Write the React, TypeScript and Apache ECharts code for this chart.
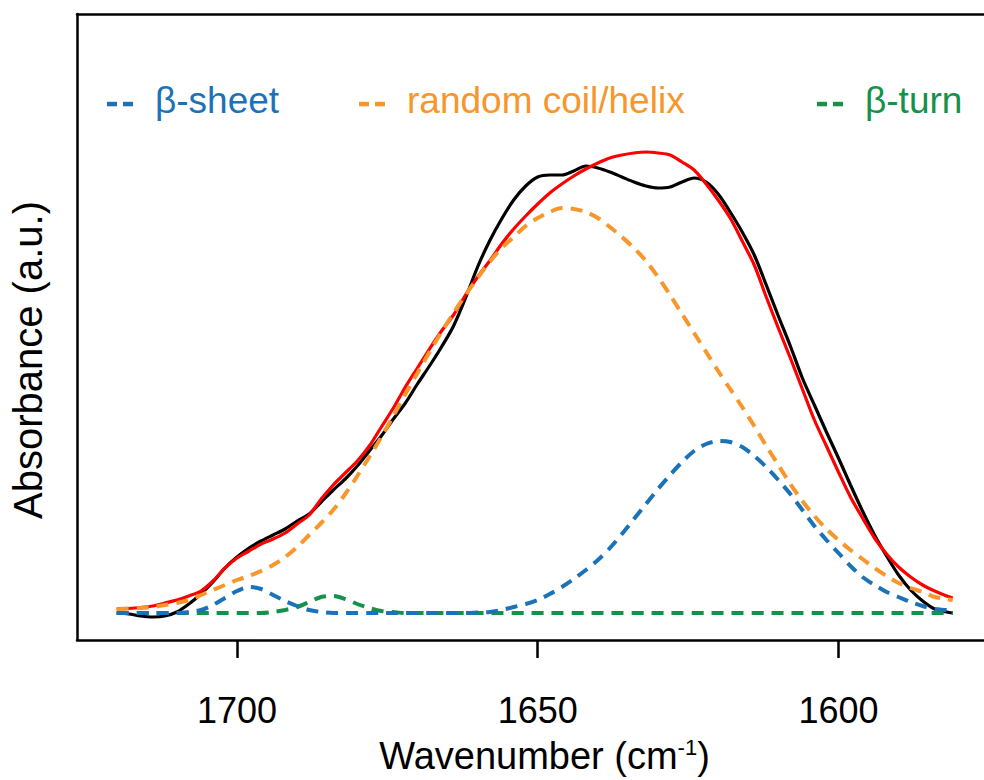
import React, { useEffect, useRef } from "react";
import * as echarts from "echarts";

// Wavenumber grid (cm-1)
const wavenumbers = [
  1720, 1718, 1716, 1714, 1712, 1710, 1708, 1706, 1704, 1702,
  1700, 1698, 1696, 1694, 1692, 1690, 1688, 1686, 1684, 1682,
  1680, 1678, 1676, 1674, 1672, 1670, 1668, 1666, 1664, 1662,
  1660, 1658, 1656, 1654, 1652, 1650, 1648, 1646, 1644, 1642,
  1640, 1638, 1636, 1634, 1632, 1630, 1628, 1626, 1624, 1622,
  1620, 1618, 1616, 1614, 1612, 1610, 1608, 1606, 1604, 1602,
  1600, 1598, 1596, 1594, 1592, 1590, 1588, 1586, 1584, 1582, 1581,
];

// Measured spectrum (black)
const measured = [
  0, -0.01, -0.03, -0.04, -0.03, 0.01, 0.09, 0.19, 0.31, 0.45,
  0.56, 0.65, 0.72, 0.78, 0.84, 0.92, 0.99, 1.11, 1.23, 1.34,
  1.47, 1.62, 1.77, 1.94, 2.1, 2.29, 2.47, 2.66, 2.87, 3.15,
  3.46, 3.72, 3.94, 4.13, 4.27, 4.36, 4.38, 4.38, 4.42, 4.47,
  4.45, 4.41, 4.36, 4.31, 4.27, 4.25, 4.26, 4.31, 4.35, 4.31,
  4.19, 4.01, 3.81, 3.58, 3.28, 2.97, 2.67, 2.35, 2.08, 1.81,
  1.55, 1.28, 1.02, 0.78, 0.57, 0.38, 0.23, 0.12, 0.04, 0.01, 0,
];

// Fitted envelope (red)
const fitted = [
  0.04, 0.045, 0.055, 0.07, 0.1, 0.13, 0.17, 0.22, 0.32, 0.45,
  0.55, 0.62, 0.69, 0.74, 0.8, 0.89, 0.98, 1.14, 1.28, 1.4,
  1.52, 1.67, 1.86, 2.05, 2.26, 2.45, 2.64, 2.82, 2.98, 3.18,
  3.36, 3.52, 3.69, 3.84, 3.97, 4.09, 4.2, 4.29, 4.37, 4.44,
  4.5, 4.55, 4.58, 4.6, 4.61, 4.6, 4.58, 4.51, 4.43, 4.29,
  4.13, 3.95, 3.72, 3.48, 3.16, 2.85, 2.55, 2.24, 1.93, 1.67,
  1.41, 1.16, 0.95, 0.75, 0.59, 0.46, 0.36, 0.28, 0.22, 0.17, 0.15,
];

// Random coil / helix component (orange dashed)
const randomCoil = [
  0.04, 0.045, 0.05, 0.06, 0.08, 0.1, 0.13, 0.18, 0.23, 0.28,
  0.33, 0.37, 0.42, 0.48, 0.56, 0.66, 0.78, 0.9, 1.03, 1.19,
  1.37, 1.56, 1.76, 1.97, 2.19, 2.4, 2.61, 2.81, 3.0, 3.18,
  3.35, 3.51, 3.65, 3.76, 3.87, 3.95, 4.01, 4.05, 4.04, 4.01,
  3.95, 3.86, 3.76, 3.65, 3.52, 3.36, 3.18, 2.99, 2.8, 2.61,
  2.42, 2.24, 2.06, 1.87, 1.67, 1.48, 1.29, 1.12, 0.97, 0.84,
  0.73, 0.63, 0.54, 0.45, 0.37, 0.3, 0.25, 0.21, 0.16, 0.14, 0.13,
];

// beta-sheet components (blue dashed)
const betaSheet = [
  0, 0, 0, 0, 0, 0, 0.01, 0.03, 0.08, 0.15,
  0.22, 0.26, 0.24, 0.18, 0.12, 0.07, 0.03, 0.01, 0, 0,
  0, 0, 0, 0, 0, 0, 0, 0, 0, 0,
  0.005, 0.01, 0.03, 0.06, 0.09, 0.13, 0.19, 0.26, 0.34, 0.43,
  0.53, 0.65, 0.79, 0.94, 1.09, 1.24, 1.38, 1.51, 1.62, 1.69,
  1.72, 1.71, 1.66, 1.57, 1.46, 1.33, 1.19, 1.03, 0.87, 0.73,
  0.6, 0.47, 0.36, 0.28, 0.21, 0.16, 0.11, 0.07, 0.04, 0.03, 0.02,
];

// beta-turn component (green dashed)
const betaTurn = [
  0, 0, 0, 0, 0, 0, 0, 0, 0, 0,
  0, 0, 0, 0.01, 0.03, 0.06, 0.11, 0.16, 0.17, 0.14,
  0.09, 0.05, 0.02, 0.01, 0, 0, 0, 0, 0, 0,
  0, 0, 0, 0, 0, 0, 0, 0, 0, 0,
  0, 0, 0, 0, 0, 0, 0, 0, 0, 0,
  0, 0, 0, 0, 0, 0, 0, 0, 0, 0,
  0, 0, 0, 0, 0, 0, 0, 0, 0, 0, 0,
];

const tickValues = [1600, 1650, 1700];
const legendLabels = ["β-sheet", "random coil/helix", "β-turn"];

const FONT = '"Liberation Sans", Arial, Helvetica, sans-serif';
const BLUE = "#1b72b8";
const ORANGE = "#f7962a";
const GREEN = "#16914a";
const RED = "#ff0000";
const BLACK = "#000000";

const legendColors = [BLUE, ORANGE, GREEN];
const legendX = [107, 359, 817];

const toPairs = (ys: number[]) => wavenumbers.map((w, i) => [w, ys[i]]);

export default function App() {
  const ref = useRef<HTMLDivElement>(null);

  useEffect(() => {
    if (!ref.current) return;
    const chart = echarts.init(ref.current, undefined, { renderer: "svg" });

    const axisLineStyle = { color: BLACK, width: 2.5 };
    const dash = [12, 8];

    const graphic: any[] = [];
    legendLabels.forEach((label, i) => {
      const x0 = legendX[i];
      graphic.push({
        type: "rect",
        shape: { x: x0, y: 101.8, width: 10, height: 4.5 },
        style: { fill: legendColors[i] },
      });
      graphic.push({
        type: "rect",
        shape: { x: x0 + 16, y: 101.8, width: 10, height: 4.5 },
        style: { fill: legendColors[i] },
      });
      graphic.push({
        type: "text",
        x: x0 + 48,
        y: 100,
        style: {
          text: label,
          fill: legendColors[i],
          fontSize: 37,
          fontFamily: FONT,
          align: "left",
          verticalAlign: "middle",
        },
      });
    });

    const lineSeries = (name: string, ys: number[], color: string, dashed: boolean, width: number, z: number) => ({
      name,
      type: "line",
      data: toPairs(ys),
      showSymbol: false,
      symbol: "none",
      smooth: 0.3,
      z,
      lineStyle: { color, width, type: dashed ? dash : "solid" },
      emphasis: { disabled: true },
    });

    chart.setOption({
      animation: false,
      backgroundColor: "#ffffff",
      grid: {
        left: 77,
        right: 0,
        top: 14,
        bottom: 140,
        containLabel: false,
        outerBoundsMode: "none",
      },
      xAxis: [
        {
          type: "value",
          inverse: true,
          min: 1575.8,
          max: 1726.6,
          position: "bottom",
          axisLine: { show: true, onZero: false, lineStyle: axisLineStyle },
          axisTick: {
            show: true,
            inside: false,
            length: 18,
            customValues: tickValues,
            lineStyle: axisLineStyle,
          },
          axisLabel: {
            customValues: tickValues,
            fontSize: 36,
            color: BLACK,
            fontFamily: FONT,
            margin: 52,
            formatter: (v: number) => String(v),
          },
          splitLine: { show: false },
          name: "{a|Wavenumber (cm}{s|-1}{a|)}",
          nameLocation: "middle",
          nameGap: 96,
          nameTextStyle: {
            padding: [0, 0, 0, 28],
            rich: {
              a: { fontSize: 38, color: BLACK, fontFamily: FONT, lineHeight: 40 },
              s: { fontSize: 22, color: BLACK, fontFamily: FONT, verticalAlign: "top", lineHeight: 40 },
            },
          },
        },
        {
          type: "value",
          inverse: true,
          min: 1575.8,
          max: 1726.6,
          position: "top",
          axisLine: { show: true, onZero: false, lineStyle: axisLineStyle },
          axisTick: { show: false },
          axisLabel: { show: false },
          splitLine: { show: false },
        },
      ],
      yAxis: {
        type: "value",
        min: -0.27,
        max: 5.99,
        axisLine: { show: true, onZero: false, lineStyle: axisLineStyle },
        axisTick: { show: false },
        axisLabel: { show: false },
        splitLine: { show: false },
        name: "Absorbance (a.u.)",
        nameLocation: "middle",
        nameGap: 29,
        nameTextStyle: {
          fontSize: 40,
          color: BLACK,
          fontFamily: FONT,
          padding: [0, 66, 0, 0],
        },
      },
      series: [
        lineSeries("Measured", measured, BLACK, false, 3.2, 2),
        lineSeries("Fit", fitted, RED, false, 3.2, 3),
        lineSeries("random coil/helix", randomCoil, ORANGE, true, 4, 4),
        lineSeries("β-turn", betaTurn, GREEN, true, 4, 5),
        lineSeries("β-sheet", betaSheet, BLUE, true, 4, 6),
      ],
      graphic,
    });

    return () => chart.dispose();
  }, []);

  return (
    <div
      ref={ref}
      style={{ position: "fixed", left: 0, top: 0, width: 984, height: 780, background: "#fff" }}
    />
  );
}
